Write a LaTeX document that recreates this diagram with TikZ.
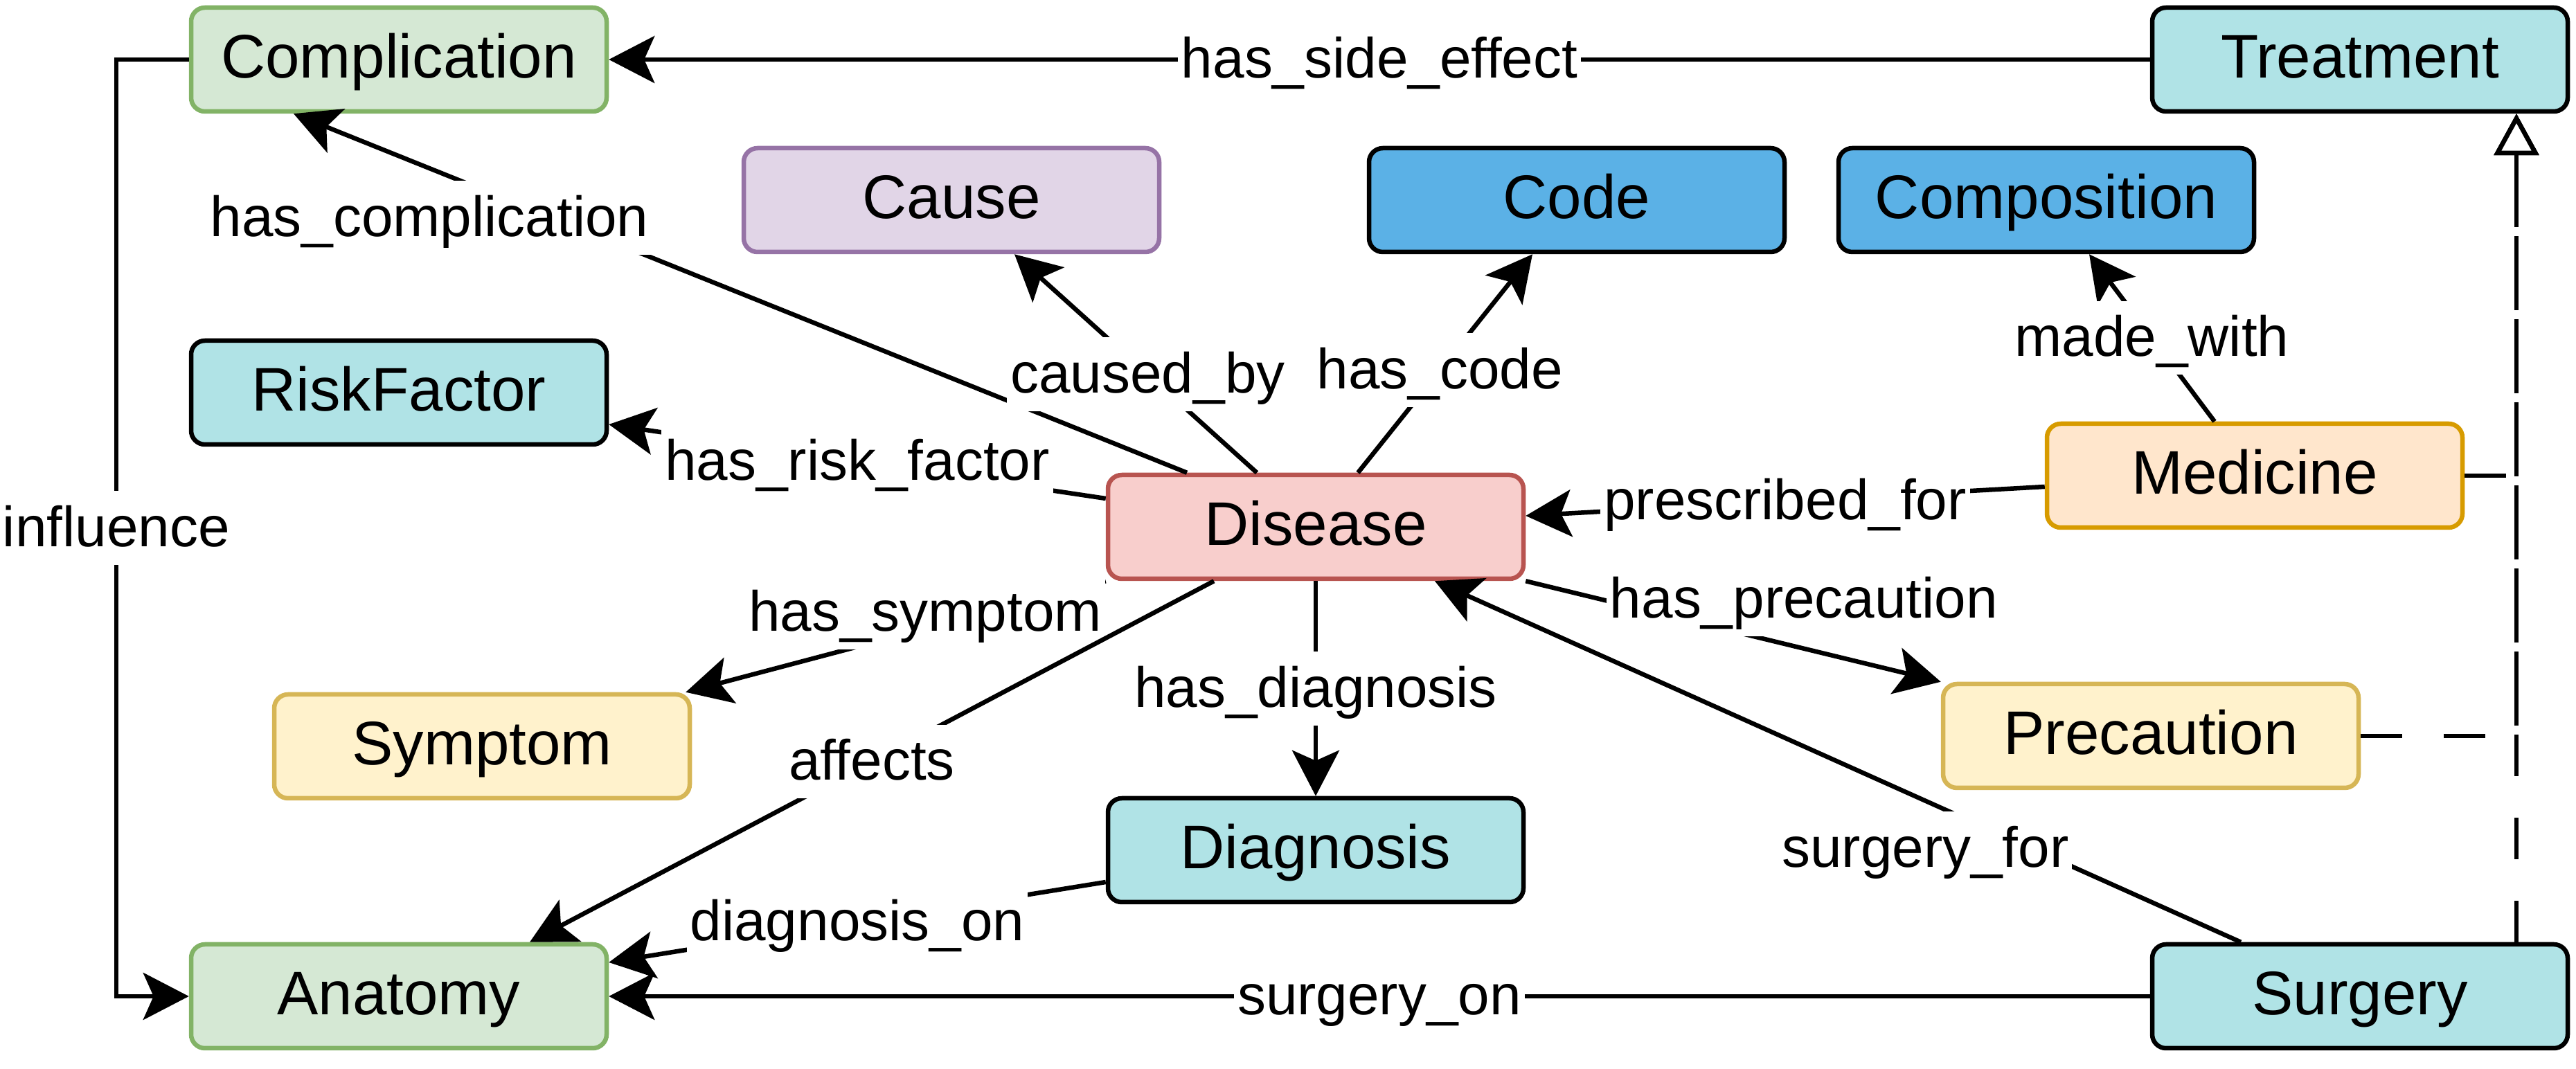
\documentclass[tikz,border=0pt]{standalone}
\usepackage{fontspec}
\setmainfont{Liberation Sans}
\usetikzlibrary{arrows.meta,calc}
\definecolor{greenfill}{HTML}{D5E8D4}
\definecolor{greenline}{HTML}{82B366}
\definecolor{purplefill}{HTML}{E1D5E7}
\definecolor{purpleline}{HTML}{9673A6}
\definecolor{tealfill}{HTML}{B0E3E6}
\definecolor{bluefill}{HTML}{5BB1E6}
\definecolor{redfill}{HTML}{F8CECC}
\definecolor{redline}{HTML}{B85450}
\definecolor{orangefill}{HTML}{FFE6CC}
\definecolor{orangeline}{HTML}{D79B00}
\definecolor{yellowfill}{HTML}{FFF2CC}
\definecolor{yellowline}{HTML}{D6B656}

\begin{document}
\begin{tikzpicture}[->, >={Stealth[length=6.6mm, width=6.8mm, inset=1.5mm]},
    line width=0.65mm,
    every node/.append style={font=\fontsize{25.3}{30}\selectfont, text height=20.2pt, text depth=5.1pt},
    box/.style={draw, rounded corners=2mm, minimum width=60mm, minimum height=15mm},
    lbl/.style={fill=white, inner xsep=0.5mm, inner ysep=1mm, font=\fontsize{23.3}{28}\selectfont, text height=20pt, text depth=4.7pt},
    dashline/.style={dash pattern=on 6mm off 6mm, -{Triangle[length=6mm, width=6.4mm, fill=white]}}]
    \useasboundingbox (0,0) rectangle (37.2,15.44);
    % top row
    \node(Complication)[box, fill=greenfill, draw=greenline] at (5.76,14.58) {Complication};
    \node(Treatment)[box, fill=tealfill] at (34.08,14.58) {Treatment};
    \node(Cause)[box, fill=purplefill, draw=purpleline] at (13.74,12.55) {Cause};
    \node(Code)[box, fill=bluefill] at (22.77,12.55) {Code};
    \node(Composition)[box, fill=bluefill] at (29.55,12.55) {Composition};
    % middle
    \node(RiskFactor)[box, fill=tealfill] at (5.76,9.77) {RiskFactor};
    \node(Medicine)[box, fill=orangefill, draw=orangeline] at (32.56,8.57) {Medicine};
    \node(Disease)[box, fill=redfill, draw=redline] at (19,7.83) {Disease};
    \node(Symptom)[box, fill=yellowfill, draw=yellowline] at (6.96,4.66) {Symptom};
    \node(Precaution)[box, fill=yellowfill, draw=yellowline] at (31.06,4.81) {Precaution};
    \node(Diagnosis)[box, fill=tealfill] at (19,3.16) {Diagnosis};
    % bottom row
    \node(Anatomy)[box, fill=greenfill, draw=greenline] at (5.76,1.05) {Anatomy};
    \node(Surgery)[box, fill=tealfill] at (34.08,1.05) {Surgery};

    \draw (Treatment) -- node[lbl] {has\_side\_effect} (Complication);
    \draw ([xshift=-1.86cm]Disease.north) -- node[lbl, pos=0.71, xshift=-1.78cm] {has\_complication} ([xshift=-1.52cm]Complication.south);
    \draw ([xshift=-0.85cm]Disease.north) -- node[lbl, pos=0.45] {caused\_by} ([xshift=0.91cm]Cause.south);
    \draw ([xshift=0.61cm]Disease.north) -- node[lbl, pos=0.47] {has\_code} ([xshift=-0.64cm]Code.south);
    \draw ([yshift=0.41cm]Disease.west) -- node[lbl] {has\_risk\_factor} ([yshift=-0.46cm]RiskFactor.east);
    \draw (Disease.south west) -- node[lbl, pos=0.43, yshift=0.24cm] {has\_symptom} ([xshift=-0.09cm]Symptom.north east);
    \draw ([xshift=-1.47cm]Disease.south) -- node[lbl] {affects} ([xshift=1.89cm]Anatomy.north);
    \draw (Disease) -- node[lbl] {has\_diagnosis} (Diagnosis);
    \draw ([yshift=-0.46cm]Diagnosis.west) -- node[lbl] {diagnosis\_on} ([yshift=0.49cm]Anatomy.east);
    \draw (Surgery) -- node[lbl] {surgery\_on} (Anatomy);
    \draw ([xshift=-1.72cm]Surgery.north) -- node[lbl, pos=0.26, xshift=-1.53cm] {surgery\_for} ([xshift=1.72cm]Disease.south);
    \draw ([yshift=-0.16cm]Medicine.west) -- node[lbl] {prescribed\_for} ([yshift=0.16cm]Disease.east);
    \draw ([xshift=-0.58cm]Medicine.north) -- node[lbl] {made\_with} ([xshift=0.62cm]Composition.south);
    \draw (Disease.south east) -- node[lbl, pos=0.67, yshift=0.71cm] {has\_precaution} (Precaution.north west);
    \draw (Complication.west) -- ++(-1.05,0) |- node[lbl, pos=0.25] {influence} (Anatomy.west);
    % is-a links to Treatment
    \draw[dashline] (Medicine.east) -| ([xshift=2.26cm]Treatment.south);
    \draw[dashline] (Precaution.east) -| ([xshift=2.26cm]Treatment.south);
    \draw[dashline] ([xshift=2.26cm]Surgery.north) -- ([xshift=2.26cm]Treatment.south);
\end{tikzpicture}
\end{document}
